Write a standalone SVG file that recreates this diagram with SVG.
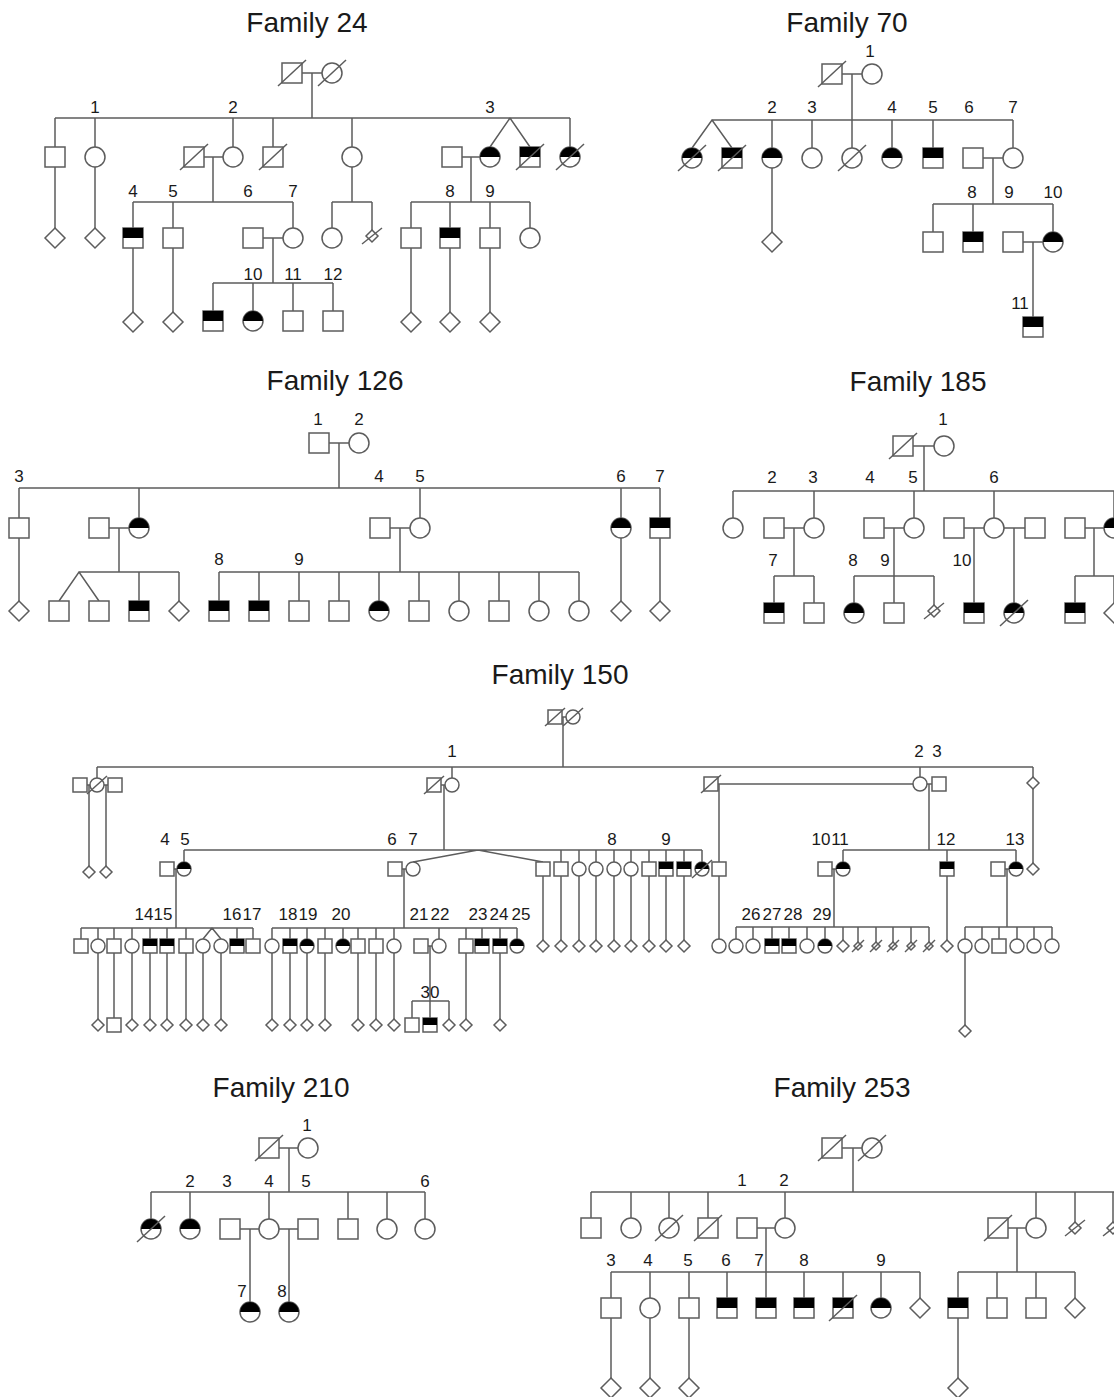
<svg xmlns="http://www.w3.org/2000/svg" width="1114" height="1397" viewBox="0 0 1114 1397">
<defs>
<style>
.l{fill:none;stroke:#5c5c5c;stroke-width:1.5}
.s{fill:#fff;stroke:#5c5c5c;stroke-width:1.5}
.k{fill:#000}
.t{font-family:"Liberation Sans",Arial,sans-serif;font-size:17px;fill:#1a1a1a;text-anchor:middle}
.h{font-size:28px}
</style>
<g id="sq"><rect class="s" x="-10" y="-10" width="20" height="20"/></g>
<g id="ci"><circle class="s" r="10"/></g>
<g id="di"><path class="s" d="M0-10L10 0L0 10L-10 0Z"/></g>
<g id="hs"><rect class="s" x="-10" y="-10" width="20" height="20"/><rect class="k" x="-10" y="-10" width="20" height="10"/></g>
<g id="hc"><circle class="s" r="10"/><path class="k" d="M-10 0A10 10 0 0 1 10 0Z"/></g>
<g id="x"><path class="l" d="M-14 13L14-13"/></g>
<g id="sd"><path class="s" d="M0-6L6 0L0 6L-6 0Z"/><path class="l" d="M-10 8L10-8"/></g>
<g id="sq7"><rect class="s" x="-7" y="-7" width="14" height="14"/></g>
<g id="ci7"><circle class="s" r="7"/></g>
<g id="di7"><path class="s" d="M0-6L6 0L0 6L-6 0Z"/></g>
<g id="hs7"><rect class="s" x="-7" y="-7" width="14" height="14"/><rect class="k" x="-7" y="-7" width="14" height="7"/></g>
<g id="hc7"><circle class="s" r="7"/><path class="k" d="M-7 0A7 7 0 0 1 7 0Z"/></g>
<g id="x7"><path class="l" d="M-10 9L10-9"/></g>
<g id="sd7"><path class="s" d="M0-4L4 0L0 4L-4 0Z"/><path class="l" d="M-6 6L6-6"/></g>
</defs>
<rect width="1114" height="1397" fill="#fff"/>

<g id="connectors">
<path class="l" d="M302 73H322M312 73V118M55 118H570M55 118V147M95 118V147M233 118V147M273 118V147M352 118V147M570 118V147M490 147L510 118L530 147M204 157H223M213 157V202M462 157H480M471 157V202M133 202H293M133 202V228M173 202V228M293 202V228M352 167V202M332 202H372M332 202V228M372 202V230M411 202H530M411 202V228M450 202V228M490 202V228M530 202V228M55 167V228M95 167V228M133 248V312M173 248V312M411 248V312M450 248V312M490 248V312M263 238H283M273 238V283M213 283H333M213 283V311M253 283V311M293 283V311M333 283V311"/>
<path class="l" d="M842 74H862M852 74V148M712 120H1013M692 148L712 120L732 148M772 120V148M812 120V148M892 120V148M933 120V148M1013 120V148M772 168V232M983 158H1003M993 158V204M933 204H1053M933 204V232M973 204V232M1053 204V232M1023 242H1043M1033 242V317"/>
<path class="l" d="M329 443H349M339 443V488M19 488H660M19 488V518M139 488V518M420 488V518M621 488V518M660 488V518M109 528H129M119 528V572M390 528H410M400 528V572M19 538V601M621 538V601M660 538V601M79 572H179M59 601L79 572L99 601M139 572V601M179 572V601M219 572H579M219 572V601M259 572V601M299 572V601M339 572V601M379 572V601M419 572V601M459 572V601M499 572V601M539 572V601M579 572V601"/>
<path class="l" d="M913 446H934M924 446V491M733 491H1114M733 491V518M814 491V518M914 491V518M994 491V518M1114 491V518M784 528H804M794 528V576M774 576H814M774 576V603M814 576V603M884 528H904M894 528V603M854 576H934M854 576V603M934 576V605M964 528H984M974 528V603M1004 528H1025M1014 528V603M1085 528H1104M1094 528V576M1075 576H1114M1075 576V603M1114 576V603"/>
<path class="l" d="M562 717H566M563 717V767M97 767H1033M97 767V778M452 767V778M920 767V777M1033 767V777M87 785H90M89 785V866M104 785H108M106 785V866M441 785H445M444 785V850M718 784H913M719 784V862M719 876V939M927 784H932M929 784V850M1033 789V863M184 850H702M184 850V862M174 869H177M176 869V928M402 869H406M404 869V928M413 862L478 850L543 862M561 850V862M579 850V862M596 850V862M614 850V862M631 850V862M649 850V862M666 850V862M684 850V862M702 850V862M543 876V940M561 876V940M579 876V940M596 876V940M614 876V940M631 876V940M649 876V940M666 876V940M684 876V940M843 850H1016M843 850V862M947 850V862M1016 850V862M832 869H836M834 869V927M947 876V940M1005 869H1009M1007 869V927M81 928H253M81 928V939M98 928V939M114 928V939M132 928V939M150 928V939M167 928V939M186 928V939M237 928V939M253 928V939M203 939L212 928L221 939M98 953V1019M114 953V1018M132 953V1019M150 953V1019M167 953V1019M186 953V1019M203 953V1019M221 953V1019M272 928H517M272 928V939M290 928V939M307 928V939M325 928V939M343 928V939M358 928V939M376 928V939M394 928V939M439 928V939M466 928V939M482 928V939M500 928V939M517 928V939M428 946H432M430 946V1018M272 953V1019M290 953V1019M307 953V1019M325 953V1019M358 953V1019M376 953V1019M394 953V1019M466 953V1019M500 953V1019M412 1001H449M412 1001V1018M449 1001V1019M736 927H929M736 927V939M753 927V939M772 927V939M789 927V939M807 927V939M825 927V939M843 927V940M858 927V942M876 927V942M893 927V942M911 927V942M929 927V942M965 927H1052M965 927V939M982 927V939M999 927V939M1017 927V939M1034 927V939M1052 927V939M965 953V1025"/>
<path class="l" d="M279 1148H298M289 1148V1192M151 1192H425M151 1192V1219M190 1192V1219M269 1192V1219M348 1192V1219M387 1192V1219M425 1192V1219M240 1229H259M250 1229V1302M279 1229H298M289 1229V1302"/>
<path class="l" d="M842 1148H862M853 1148V1192M591 1192H1114M591 1192V1218M631 1192V1218M669 1192V1218M708 1192V1218M785 1192V1218M1036 1192V1218M1075 1192V1222M1113 1192V1222M757 1228H775M766 1228V1298M611 1272H920M611 1272V1298M650 1272V1298M689 1272V1298M727 1272V1298M804 1272V1298M843 1272V1298M881 1272V1298M920 1272V1298M611 1318V1378M650 1318V1378M689 1318V1378M1008 1228H1026M1017 1228V1272M958 1272H1075M958 1272V1298M997 1272V1298M1036 1272V1298M1075 1272V1298M958 1318V1378"/>
</g>

<g id="family24">
<text class="t h" x="307" y="32">Family 24</text>
<g id="f24-p1"><use href="#sq" x="292" y="73"/><use href="#x" x="292" y="73"/></g>
<g id="f24-p2"><use href="#ci" x="332" y="73"/><use href="#x" x="332" y="73"/></g>
<g id="f24-a1"><use href="#sq" x="55" y="157"/></g>
<g id="f24-a2"><use href="#ci" x="95" y="157"/></g>
<g id="f24-a3"><use href="#sq" x="194" y="157"/><use href="#x" x="194" y="157"/></g>
<g id="f24-a4"><use href="#ci" x="233" y="157"/></g>
<g id="f24-a5"><use href="#sq" x="273" y="157"/><use href="#x" x="273" y="157"/></g>
<g id="f24-a6"><use href="#ci" x="352" y="157"/></g>
<g id="f24-a7"><use href="#sq" x="452" y="157"/></g>
<g id="f24-a8"><use href="#hc" x="490" y="157"/></g>
<g id="f24-a9"><use href="#hs" x="530" y="157"/><use href="#x" x="530" y="157"/></g>
<g id="f24-a10"><use href="#hc" x="570" y="157"/><use href="#x" x="570" y="157"/></g>
<g id="f24-b1"><use href="#di" x="55" y="238"/></g>
<g id="f24-b2"><use href="#di" x="95" y="238"/></g>
<g id="f24-b3"><use href="#hs" x="133" y="238"/></g>
<g id="f24-b4"><use href="#sq" x="173" y="238"/></g>
<g id="f24-b5"><use href="#sq" x="253" y="238"/></g>
<g id="f24-b6"><use href="#ci" x="293" y="238"/></g>
<g id="f24-b7"><use href="#ci" x="332" y="238"/></g>
<g id="f24-b8"><use href="#sd" x="372" y="236"/></g>
<g id="f24-b9"><use href="#sq" x="411" y="238"/></g>
<g id="f24-b10"><use href="#hs" x="450" y="238"/></g>
<g id="f24-b11"><use href="#sq" x="490" y="238"/></g>
<g id="f24-b12"><use href="#ci" x="530" y="238"/></g>
<g id="f24-c1"><use href="#di" x="133" y="322"/></g>
<g id="f24-c2"><use href="#di" x="173" y="322"/></g>
<g id="f24-c3"><use href="#hs" x="213" y="321"/></g>
<g id="f24-c4"><use href="#hc" x="253" y="321"/></g>
<g id="f24-c5"><use href="#sq" x="293" y="321"/></g>
<g id="f24-c6"><use href="#sq" x="333" y="321"/></g>
<g id="f24-c7"><use href="#di" x="411" y="322"/></g>
<g id="f24-c8"><use href="#di" x="450" y="322"/></g>
<g id="f24-c9"><use href="#di" x="490" y="322"/></g>
<text class="t" x="95" y="113">1</text><text class="t" x="233" y="113">2</text><text class="t" x="490" y="113">3</text>
<text class="t" x="133" y="197">4</text><text class="t" x="173" y="197">5</text><text class="t" x="248" y="197">6</text><text class="t" x="293" y="197">7</text><text class="t" x="450" y="197">8</text><text class="t" x="490" y="197">9</text>
<text class="t" x="253" y="280">10</text><text class="t" x="293" y="280">11</text><text class="t" x="333" y="280">12</text>
</g>

<g id="family70">
<text class="t h" x="847" y="32">Family 70</text>
<g id="f70-p1"><use href="#sq" x="832" y="74"/><use href="#x" x="832" y="74"/></g>
<g id="f70-p2"><use href="#ci" x="872" y="74"/></g>
<g id="f70-a1"><use href="#hc" x="692" y="158"/><use href="#x" x="692" y="158"/></g>
<g id="f70-a2"><use href="#hs" x="732" y="158"/><use href="#x" x="732" y="158"/></g>
<g id="f70-a3"><use href="#hc" x="772" y="158"/></g>
<g id="f70-a4"><use href="#ci" x="812" y="158"/></g>
<g id="f70-a5"><use href="#ci" x="852" y="158"/><use href="#x" x="852" y="158"/></g>
<g id="f70-a6"><use href="#hc" x="892" y="158"/></g>
<g id="f70-a7"><use href="#hs" x="933" y="158"/></g>
<g id="f70-a8"><use href="#sq" x="973" y="158"/></g>
<g id="f70-a9"><use href="#ci" x="1013" y="158"/></g>
<g id="f70-b1"><use href="#di" x="772" y="242"/></g>
<g id="f70-b2"><use href="#sq" x="933" y="242"/></g>
<g id="f70-b3"><use href="#hs" x="973" y="242"/></g>
<g id="f70-b4"><use href="#sq" x="1013" y="242"/></g>
<g id="f70-b5"><use href="#hc" x="1053" y="242"/></g>
<g id="f70-c1"><use href="#hs" x="1033" y="327"/></g>
<text class="t" x="870" y="57">1</text>
<text class="t" x="772" y="113">2</text><text class="t" x="812" y="113">3</text><text class="t" x="892" y="113">4</text><text class="t" x="933" y="113">5</text><text class="t" x="969" y="113">6</text><text class="t" x="1013" y="113">7</text>
<text class="t" x="972" y="198">8</text><text class="t" x="1009" y="198">9</text><text class="t" x="1053" y="198">10</text>
<text class="t" x="1020" y="309">11</text>
</g>

<g id="family126">
<text class="t h" x="335" y="390">Family 126</text>
<g id="f126-p1"><use href="#sq" x="319" y="443"/></g>
<g id="f126-p2"><use href="#ci" x="359" y="443"/></g>
<g id="f126-a1"><use href="#sq" x="19" y="528"/></g>
<g id="f126-a2"><use href="#sq" x="99" y="528"/></g>
<g id="f126-a3"><use href="#hc" x="139" y="528"/></g>
<g id="f126-a4"><use href="#sq" x="380" y="528"/></g>
<g id="f126-a5"><use href="#ci" x="420" y="528"/></g>
<g id="f126-a6"><use href="#hc" x="621" y="528"/></g>
<g id="f126-a7"><use href="#hs" x="660" y="528"/></g>
<g id="f126-b1"><use href="#di" x="19" y="611"/></g>
<g id="f126-b2"><use href="#sq" x="59" y="611"/></g>
<g id="f126-b3"><use href="#sq" x="99" y="611"/></g>
<g id="f126-b4"><use href="#hs" x="139" y="611"/></g>
<g id="f126-b5"><use href="#di" x="179" y="611"/></g>
<g id="f126-b6"><use href="#hs" x="219" y="611"/></g>
<g id="f126-b7"><use href="#hs" x="259" y="611"/></g>
<g id="f126-b8"><use href="#sq" x="299" y="611"/></g>
<g id="f126-b9"><use href="#sq" x="339" y="611"/></g>
<g id="f126-b10"><use href="#hc" x="379" y="611"/></g>
<g id="f126-b11"><use href="#sq" x="419" y="611"/></g>
<g id="f126-b12"><use href="#ci" x="459" y="611"/></g>
<g id="f126-b13"><use href="#sq" x="499" y="611"/></g>
<g id="f126-b14"><use href="#ci" x="539" y="611"/></g>
<g id="f126-b15"><use href="#ci" x="579" y="611"/></g>
<g id="f126-b16"><use href="#di" x="621" y="611"/></g>
<g id="f126-b17"><use href="#di" x="660" y="611"/></g>
<text class="t" x="318" y="425">1</text><text class="t" x="359" y="425">2</text>
<text class="t" x="19" y="482">3</text><text class="t" x="379" y="482">4</text><text class="t" x="420" y="482">5</text><text class="t" x="621" y="482">6</text><text class="t" x="660" y="482">7</text>
<text class="t" x="219" y="565">8</text><text class="t" x="299" y="565">9</text>
</g>

<g id="family185">
<text class="t h" x="918" y="391">Family 185</text>
<g id="f185-p1"><use href="#sq" x="903" y="446"/><use href="#x" x="903" y="446"/></g>
<g id="f185-p2"><use href="#ci" x="944" y="446"/></g>
<g id="f185-a1"><use href="#ci" x="733" y="528"/></g>
<g id="f185-a2"><use href="#sq" x="774" y="528"/></g>
<g id="f185-a3"><use href="#ci" x="814" y="528"/></g>
<g id="f185-a4"><use href="#sq" x="874" y="528"/></g>
<g id="f185-a5"><use href="#ci" x="914" y="528"/></g>
<g id="f185-a6"><use href="#sq" x="954" y="528"/></g>
<g id="f185-a7"><use href="#ci" x="994" y="528"/></g>
<g id="f185-a8"><use href="#sq" x="1035" y="528"/></g>
<g id="f185-a9"><use href="#sq" x="1075" y="528"/></g>
<g id="f185-a10"><use href="#hc" x="1114" y="528"/></g>
<g id="f185-b1"><use href="#hs" x="774" y="613"/></g>
<g id="f185-b2"><use href="#sq" x="814" y="613"/></g>
<g id="f185-b3"><use href="#hc" x="854" y="613"/></g>
<g id="f185-b4"><use href="#sq" x="894" y="613"/></g>
<g id="f185-b5"><use href="#sd" x="934" y="611"/></g>
<g id="f185-b6"><use href="#hs" x="974" y="613"/></g>
<g id="f185-b7"><use href="#hc" x="1014" y="613"/><use href="#x" x="1014" y="613"/></g>
<g id="f185-b8"><use href="#hs" x="1075" y="613"/></g>
<g id="f185-b9"><use href="#di" x="1114" y="613"/></g>
<text class="t" x="943" y="425">1</text>
<text class="t" x="772" y="483">2</text><text class="t" x="813" y="483">3</text><text class="t" x="870" y="483">4</text><text class="t" x="913" y="483">5</text><text class="t" x="994" y="483">6</text>
<text class="t" x="773" y="566">7</text><text class="t" x="853" y="566">8</text><text class="t" x="885" y="566">9</text><text class="t" x="962" y="566">10</text>
</g>

<g id="family150">
<text class="t h" x="560" y="684">Family 150</text>
<g id="f150-p1"><use href="#sq7" x="555" y="717"/><use href="#x7" x="555" y="717"/></g>
<g id="f150-p2"><use href="#ci7" x="573" y="717"/><use href="#x7" x="573" y="717"/></g>
<g id="f150-a1"><use href="#sq7" x="80" y="785"/></g>
<g id="f150-a2"><use href="#ci7" x="97" y="785"/><use href="#x7" x="97" y="785"/></g>
<g id="f150-a3"><use href="#sq7" x="115" y="785"/></g>
<g id="f150-a4"><use href="#sq7" x="434" y="785"/><use href="#x7" x="434" y="785"/></g>
<g id="f150-a5"><use href="#ci7" x="452" y="785"/></g>
<g id="f150-a6"><use href="#sq7" x="711" y="784"/><use href="#x7" x="711" y="784"/></g>
<g id="f150-a7"><use href="#ci7" x="920" y="784"/></g>
<g id="f150-a8"><use href="#sq7" x="939" y="784"/></g>
<g id="f150-a9"><use href="#di7" x="1033" y="783"/></g>
<g id="f150-b1"><use href="#di7" x="89" y="872"/></g>
<g id="f150-b2"><use href="#di7" x="106" y="872"/></g>
<g id="f150-b3"><use href="#sq7" x="167" y="869"/></g>
<g id="f150-b4"><use href="#hc7" x="184" y="869"/></g>
<g id="f150-b5"><use href="#sq7" x="395" y="869"/></g>
<g id="f150-b6"><use href="#ci7" x="413" y="869"/></g>
<g id="f150-b7"><use href="#sq7" x="543" y="869"/></g>
<g id="f150-b8"><use href="#sq7" x="561" y="869"/></g>
<g id="f150-b9"><use href="#ci7" x="579" y="869"/></g>
<g id="f150-b10"><use href="#ci7" x="596" y="869"/></g>
<g id="f150-b11"><use href="#ci7" x="614" y="869"/></g>
<g id="f150-b12"><use href="#ci7" x="631" y="869"/></g>
<g id="f150-b13"><use href="#sq7" x="649" y="869"/></g>
<g id="f150-b14"><use href="#hs7" x="666" y="869"/></g>
<g id="f150-b15"><use href="#hs7" x="684" y="869"/></g>
<g id="f150-b16"><use href="#hc7" x="702" y="869"/><use href="#x7" x="702" y="869"/></g>
<g id="f150-b17"><use href="#sq7" x="719" y="869"/></g>
<g id="f150-b18"><use href="#sq7" x="825" y="869"/></g>
<g id="f150-b19"><use href="#hc7" x="843" y="869"/></g>
<g id="f150-b20"><use href="#hs7" x="947" y="869"/></g>
<g id="f150-b21"><use href="#sq7" x="998" y="869"/></g>
<g id="f150-b22"><use href="#hc7" x="1016" y="869"/></g>
<g id="f150-b23"><use href="#di7" x="1033" y="869"/></g>
<g id="f150-c1"><use href="#sq7" x="81" y="946"/></g>
<g id="f150-c2"><use href="#ci7" x="98" y="946"/></g>
<g id="f150-c3"><use href="#sq7" x="114" y="946"/></g>
<g id="f150-c4"><use href="#ci7" x="132" y="946"/></g>
<g id="f150-c5"><use href="#hs7" x="150" y="946"/></g>
<g id="f150-c6"><use href="#hs7" x="167" y="946"/></g>
<g id="f150-c7"><use href="#sq7" x="186" y="946"/></g>
<g id="f150-c8"><use href="#ci7" x="203" y="946"/></g>
<g id="f150-c9"><use href="#ci7" x="221" y="946"/></g>
<g id="f150-c10"><use href="#hs7" x="237" y="946"/></g>
<g id="f150-c11"><use href="#sq7" x="253" y="946"/></g>
<g id="f150-c12"><use href="#ci7" x="272" y="946"/></g>
<g id="f150-c13"><use href="#hs7" x="290" y="946"/></g>
<g id="f150-c14"><use href="#hc7" x="307" y="946"/></g>
<g id="f150-c15"><use href="#sq7" x="325" y="946"/></g>
<g id="f150-c16"><use href="#hc7" x="343" y="946"/></g>
<g id="f150-c17"><use href="#sq7" x="358" y="946"/></g>
<g id="f150-c18"><use href="#sq7" x="376" y="946"/></g>
<g id="f150-c19"><use href="#ci7" x="394" y="946"/></g>
<g id="f150-c20"><use href="#sq7" x="421" y="946"/></g>
<g id="f150-c21"><use href="#ci7" x="439" y="946"/></g>
<g id="f150-c22"><use href="#sq7" x="466" y="946"/></g>
<g id="f150-c23"><use href="#hs7" x="482" y="946"/></g>
<g id="f150-c24"><use href="#hs7" x="500" y="946"/></g>
<g id="f150-c25"><use href="#hc7" x="517" y="946"/></g>
<g id="f150-c26"><use href="#di7" x="543" y="946"/></g>
<g id="f150-c27"><use href="#di7" x="561" y="946"/></g>
<g id="f150-c28"><use href="#di7" x="579" y="946"/></g>
<g id="f150-c29"><use href="#di7" x="596" y="946"/></g>
<g id="f150-c30"><use href="#di7" x="614" y="946"/></g>
<g id="f150-c31"><use href="#di7" x="631" y="946"/></g>
<g id="f150-c32"><use href="#di7" x="649" y="946"/></g>
<g id="f150-c33"><use href="#di7" x="666" y="946"/></g>
<g id="f150-c34"><use href="#di7" x="684" y="946"/></g>
<g id="f150-c35"><use href="#ci7" x="719" y="946"/></g>
<g id="f150-c36"><use href="#ci7" x="736" y="946"/></g>
<g id="f150-c37"><use href="#ci7" x="753" y="946"/></g>
<g id="f150-c38"><use href="#hs7" x="772" y="946"/></g>
<g id="f150-c39"><use href="#hs7" x="789" y="946"/></g>
<g id="f150-c40"><use href="#ci7" x="807" y="946"/></g>
<g id="f150-c41"><use href="#hc7" x="825" y="946"/></g>
<g id="f150-c42"><use href="#di7" x="843" y="946"/></g>
<g id="f150-c43"><use href="#sd7" x="858" y="946"/></g>
<g id="f150-c44"><use href="#sd7" x="876" y="946"/></g>
<g id="f150-c45"><use href="#sd7" x="893" y="946"/></g>
<g id="f150-c46"><use href="#sd7" x="911" y="946"/></g>
<g id="f150-c47"><use href="#sd7" x="929" y="946"/></g>
<g id="f150-c48"><use href="#di7" x="947" y="946"/></g>
<g id="f150-c49"><use href="#ci7" x="965" y="946"/></g>
<g id="f150-c50"><use href="#ci7" x="982" y="946"/></g>
<g id="f150-c51"><use href="#sq7" x="999" y="946"/></g>
<g id="f150-c52"><use href="#ci7" x="1017" y="946"/></g>
<g id="f150-c53"><use href="#ci7" x="1034" y="946"/></g>
<g id="f150-c54"><use href="#ci7" x="1052" y="946"/></g>
<g id="f150-d1"><use href="#di7" x="98" y="1025"/></g>
<g id="f150-d2"><use href="#sq7" x="114" y="1025"/></g>
<g id="f150-d3"><use href="#di7" x="132" y="1025"/></g>
<g id="f150-d4"><use href="#di7" x="150" y="1025"/></g>
<g id="f150-d5"><use href="#di7" x="167" y="1025"/></g>
<g id="f150-d6"><use href="#di7" x="186" y="1025"/></g>
<g id="f150-d7"><use href="#di7" x="203" y="1025"/></g>
<g id="f150-d8"><use href="#di7" x="221" y="1025"/></g>
<g id="f150-d9"><use href="#di7" x="272" y="1025"/></g>
<g id="f150-d10"><use href="#di7" x="290" y="1025"/></g>
<g id="f150-d11"><use href="#di7" x="307" y="1025"/></g>
<g id="f150-d12"><use href="#di7" x="325" y="1025"/></g>
<g id="f150-d13"><use href="#di7" x="358" y="1025"/></g>
<g id="f150-d14"><use href="#di7" x="376" y="1025"/></g>
<g id="f150-d15"><use href="#di7" x="394" y="1025"/></g>
<g id="f150-d16"><use href="#sq7" x="412" y="1025"/></g>
<g id="f150-d17"><use href="#hs7" x="430" y="1025"/></g>
<g id="f150-d18"><use href="#di7" x="449" y="1025"/></g>
<g id="f150-d19"><use href="#di7" x="466" y="1025"/></g>
<g id="f150-d20"><use href="#di7" x="500" y="1025"/></g>
<g id="f150-d21"><use href="#di7" x="965" y="1031"/></g>
<text class="t" x="452" y="757">1</text><text class="t" x="919" y="757">2</text><text class="t" x="937" y="757">3</text>
<text class="t" x="165" y="845">4</text><text class="t" x="185" y="845">5</text><text class="t" x="392" y="845">6</text><text class="t" x="413" y="845">7</text><text class="t" x="612" y="845">8</text><text class="t" x="666" y="845">9</text>
<text class="t" x="821" y="845">10</text><text class="t" x="840" y="845">11</text><text class="t" x="946" y="845">12</text><text class="t" x="1015" y="845">13</text>
<text class="t" x="144" y="920">14</text><text class="t" x="163" y="920">15</text><text class="t" x="232" y="920">16</text><text class="t" x="252" y="920">17</text><text class="t" x="288" y="920">18</text><text class="t" x="308" y="920">19</text><text class="t" x="341" y="920">20</text>
<text class="t" x="419" y="920">21</text><text class="t" x="440" y="920">22</text><text class="t" x="478" y="920">23</text><text class="t" x="499" y="920">24</text><text class="t" x="521" y="920">25</text>
<text class="t" x="751" y="920">26</text><text class="t" x="772" y="920">27</text><text class="t" x="793" y="920">28</text><text class="t" x="822" y="920">29</text>
<text class="t" x="430" y="998">30</text>
</g>

<g id="family210">
<text class="t h" x="281" y="1097">Family 210</text>
<g id="f210-p1"><use href="#sq" x="269" y="1148"/><use href="#x" x="269" y="1148"/></g>
<g id="f210-p2"><use href="#ci" x="308" y="1148"/></g>
<g id="f210-a1"><use href="#hc" x="151" y="1229"/><use href="#x" x="151" y="1229"/></g>
<g id="f210-a2"><use href="#hc" x="190" y="1229"/></g>
<g id="f210-a3"><use href="#sq" x="230" y="1229"/></g>
<g id="f210-a4"><use href="#ci" x="269" y="1229"/></g>
<g id="f210-a5"><use href="#sq" x="308" y="1229"/></g>
<g id="f210-a6"><use href="#sq" x="348" y="1229"/></g>
<g id="f210-a7"><use href="#ci" x="387" y="1229"/></g>
<g id="f210-a8"><use href="#ci" x="425" y="1229"/></g>
<g id="f210-b1"><use href="#hc" x="250" y="1312"/></g>
<g id="f210-b2"><use href="#hc" x="289" y="1312"/></g>
<text class="t" x="307" y="1131">1</text>
<text class="t" x="190" y="1187">2</text><text class="t" x="227" y="1187">3</text><text class="t" x="269" y="1187">4</text><text class="t" x="306" y="1187">5</text><text class="t" x="425" y="1187">6</text>
<text class="t" x="242" y="1297">7</text><text class="t" x="282" y="1297">8</text>
</g>

<g id="family253">
<text class="t h" x="842" y="1097">Family 253</text>
<g id="f253-p1"><use href="#sq" x="832" y="1148"/><use href="#x" x="832" y="1148"/></g>
<g id="f253-p2"><use href="#ci" x="872" y="1148"/><use href="#x" x="872" y="1148"/></g>
<g id="f253-a1"><use href="#sq" x="591" y="1228"/></g>
<g id="f253-a2"><use href="#ci" x="631" y="1228"/></g>
<g id="f253-a3"><use href="#ci" x="669" y="1228"/><use href="#x" x="669" y="1228"/></g>
<g id="f253-a4"><use href="#sq" x="708" y="1228"/><use href="#x" x="708" y="1228"/></g>
<g id="f253-a5"><use href="#sq" x="747" y="1228"/></g>
<g id="f253-a6"><use href="#ci" x="785" y="1228"/></g>
<g id="f253-a7"><use href="#sq" x="998" y="1228"/><use href="#x" x="998" y="1228"/></g>
<g id="f253-a8"><use href="#ci" x="1036" y="1228"/></g>
<g id="f253-a9"><use href="#sd" x="1075" y="1228"/></g>
<g id="f253-a10"><use href="#sd" x="1113" y="1228"/></g>
<g id="f253-b1"><use href="#sq" x="611" y="1308"/></g>
<g id="f253-b2"><use href="#ci" x="650" y="1308"/></g>
<g id="f253-b3"><use href="#sq" x="689" y="1308"/></g>
<g id="f253-b4"><use href="#hs" x="727" y="1308"/></g>
<g id="f253-b5"><use href="#hs" x="766" y="1308"/></g>
<g id="f253-b6"><use href="#hs" x="804" y="1308"/></g>
<g id="f253-b7"><use href="#hs" x="843" y="1308"/><use href="#x" x="843" y="1308"/></g>
<g id="f253-b8"><use href="#hc" x="881" y="1308"/></g>
<g id="f253-b9"><use href="#di" x="920" y="1308"/></g>
<g id="f253-b10"><use href="#hs" x="958" y="1308"/></g>
<g id="f253-b11"><use href="#sq" x="997" y="1308"/></g>
<g id="f253-b12"><use href="#sq" x="1036" y="1308"/></g>
<g id="f253-b13"><use href="#di" x="1075" y="1308"/></g>
<g id="f253-c1"><use href="#di" x="611" y="1388"/></g>
<g id="f253-c2"><use href="#di" x="650" y="1388"/></g>
<g id="f253-c3"><use href="#di" x="689" y="1388"/></g>
<g id="f253-c4"><use href="#di" x="958" y="1388"/></g>
<text class="t" x="742" y="1186">1</text><text class="t" x="784" y="1186">2</text>
<text class="t" x="611" y="1266">3</text><text class="t" x="648" y="1266">4</text><text class="t" x="688" y="1266">5</text><text class="t" x="726" y="1266">6</text><text class="t" x="759" y="1266">7</text><text class="t" x="804" y="1266">8</text><text class="t" x="881" y="1266">9</text>
</g>
</svg>
